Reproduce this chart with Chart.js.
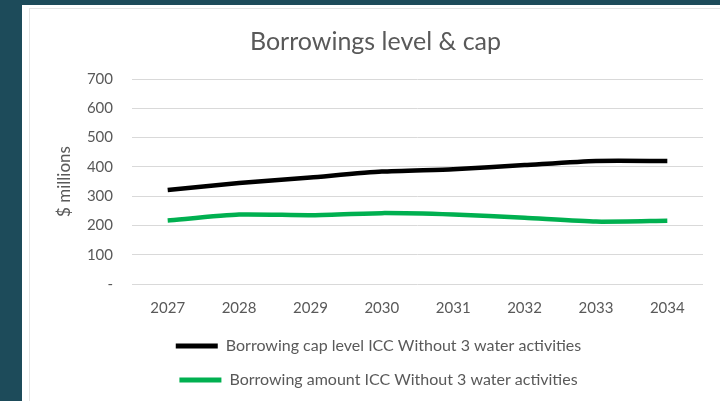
<!DOCTYPE html>
<html>
<head>
<meta charset="utf-8">
<script src="https://cdn.jsdelivr.net/npm/chart.js@4"></script>
<style>
	html, body { margin: 0; padding: 0; }
	body { width: 720px; height: 401px; background: #1d4b5a; position: relative; overflow: hidden; }
	#panel { position: absolute; left: 22px; top: 5px; width: 698px; height: 396px; background: #fff; }
	#frame { position: absolute; left: 7px; top: 3px; right: -2px; bottom: -2px; border: 1px solid #e4e4e4; }
	#wrap { position: absolute; left: 0; top: 0; width: 698px; height: 396px; }
</style>
</head>
<body>
<div id="panel">
	<div id="frame"></div>
	<div id="wrap"><canvas id="chart"></canvas></div>
</div>
<script>
const YEARS    = ['2027', '2028', '2029', '2030', '2031', '2032', '2033', '2034'];
const CAP      = [321, 345, 364, 384, 392, 406, 420, 420];
const AMOUNT   = [217, 237, 235, 242, 237, 226, 213, 216];
const Y_TICKS  = [0, 100, 200, 300, 400, 500, 600, 700];

const TEXT  = '#595959';
const FONT  = 'Lato, "Open Sans", sans-serif';

// title and legend sit a little right of the canvas centre, as in Excel
const nudge = {
	id: 'nudge',
	afterLayout(chart) {
		chart.titleBlock.left += 13;
		chart.titleBlock.right += 13;
		chart.legend.left += 16;
		chart.legend.right += 16;
	}
};

const ctx = document.getElementById('chart').getContext('2d');

new Chart(ctx, {
	type: 'line',
	data: {
		labels: YEARS,
		datasets: [
			{
				label: 'Borrowing cap level ICC Without 3 water activities',
				data: CAP,
				borderColor: '#000000',
				backgroundColor: '#000000',
				borderWidth: 4.5,
				pointRadius: 0,
				tension: 0.2
			},
			{
				label: 'Borrowing amount ICC Without 3 water activities',
				data: AMOUNT,
				borderColor: '#00b050',
				backgroundColor: '#00b050',
				borderWidth: 4.5,
				pointRadius: 0,
				tension: 0.2
			}
		]
	},
	options: {
		responsive: true,
		maintainAspectRatio: false,
		animation: false,
		layout: { padding: { left: 0, right: 17, top: 0, bottom: 3 } },
		plugins: {
			title: {
				display: true,
				text: 'Borrowings level & cap',
				color: TEXT,
				font: { family: FONT, size: 25, weight: 'normal' },
				padding: { top: 22, bottom: 22 }
			},
			legend: {
				position: 'bottom',
				labels: {
					color: TEXT,
					font: { family: FONT, size: 16 },
					boxWidth: 42,
					boxHeight: 5,
					padding: 18,
					// flat line swatch, no outline
					generateLabels: chart => Chart.defaults.plugins.legend.labels.generateLabels(chart)
						.map(l => Object.assign(l, { lineWidth: 0, fillStyle: l.strokeStyle }))
				}
			},
			tooltip: { enabled: false }
		},
		scales: {
			x: {
				offset: true,
				grid: { display: false, drawTicks: false },
				border: { display: false },
				ticks: { color: TEXT, font: { family: FONT, size: 15 }, padding: 15, maxRotation: 0 },
				afterFit: s => { s.height = 36; }
			},
			y: {
				min: 0,
				max: 700,
				afterBuildTicks: s => { s.ticks = Y_TICKS.map(v => ({ value: v })); },
				grid: { color: '#d9d9d9', lineWidth: 1, drawTicks: false },
				border: { display: false },
				ticks: {
					color: TEXT,
					font: { family: FONT, size: 15 },
					padding: 19,
					callback: v => v === 0 ? '-' : v
				},
				title: {
					display: true,
					text: '$ millions',
					color: TEXT,
					font: { family: FONT, size: 17 },
					padding: { top: 32, bottom: 0 }
				},
				afterFit: s => { s.width = 110; }
			}
		}
	},
	plugins: [nudge]
});
</script>
</body>
</html>
